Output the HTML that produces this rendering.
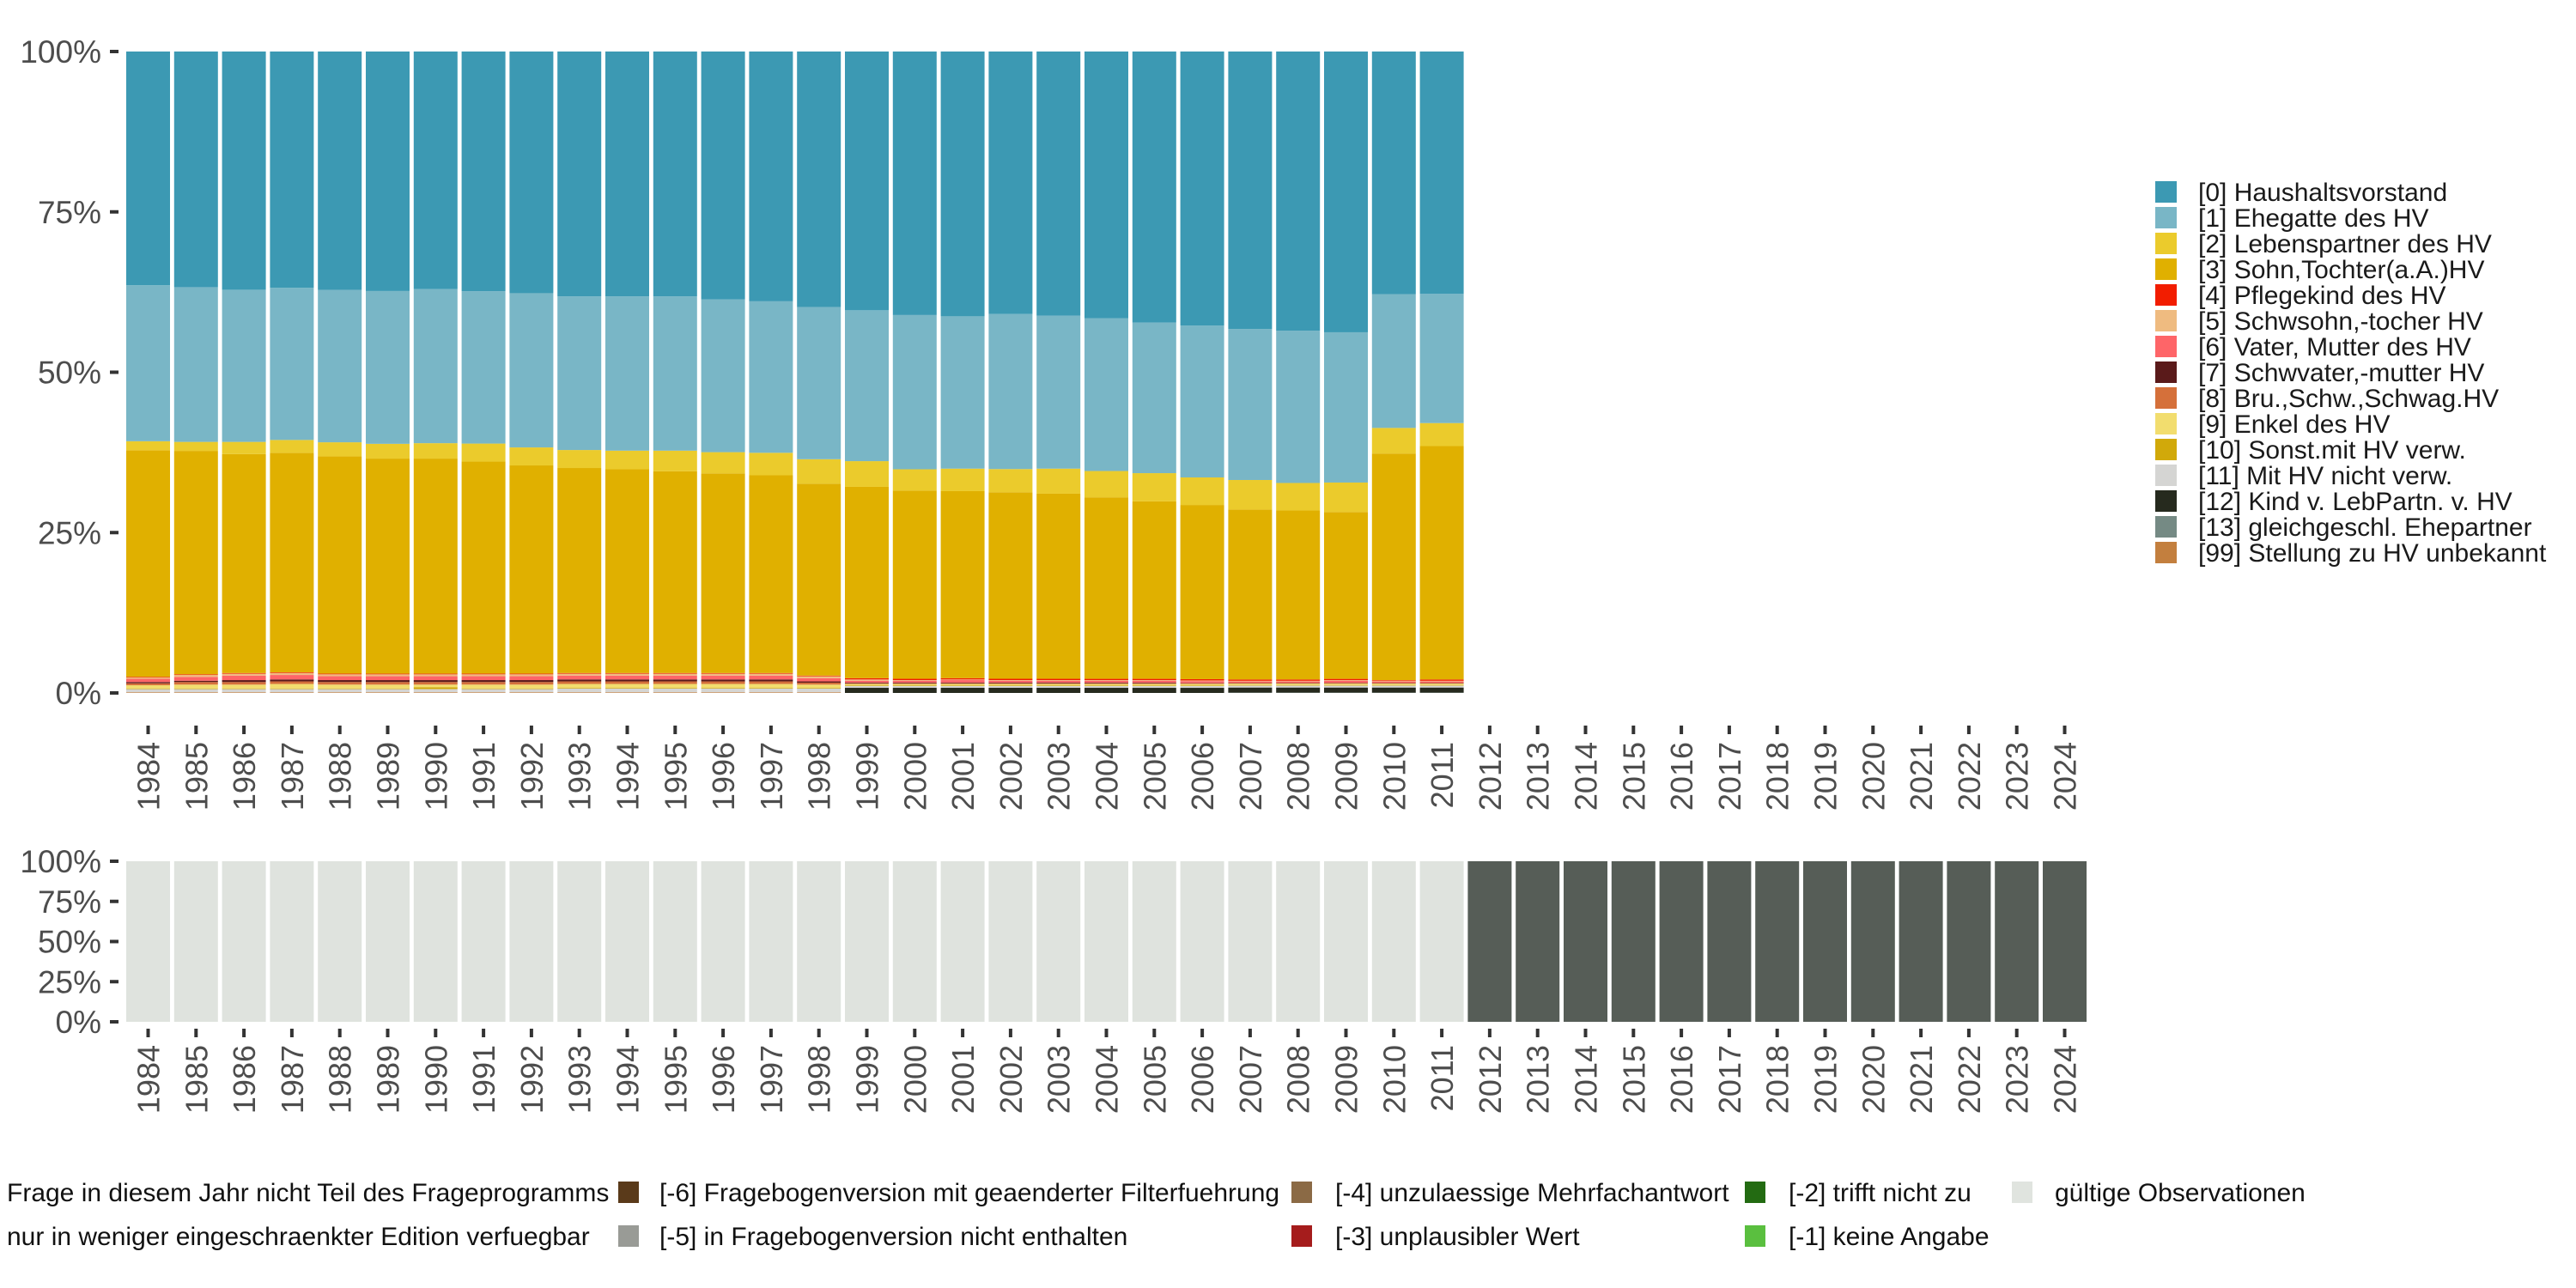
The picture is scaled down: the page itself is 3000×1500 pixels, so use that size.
<!DOCTYPE html>
<html><head><meta charset="utf-8"><style>
html,body{margin:0;padding:0;background:#fff;}
svg{display:block;font-family:"Liberation Sans",sans-serif;}
</style></head><body>
<svg id="chart" width="3000" height="1500" viewBox="0 0 3000 1500" xmlns="http://www.w3.org/2000/svg">
<g id="upper"></g>
<g id="lower"></g>
<g id="legendR"></g>
<g id="legendB"></g>
</svg>
<script>
const years = [1984,1985,1986,1987,1988,1989,1990,1991,1992,1993,1994,1995,1996,1997,1998,1999,2000,2001,2002,2003,2004,2005,2006,2007,2008,2009,2010,2011,2012,2013,2014,2015,2016,2017,2018,2019,2020,2021,2022,2023,2024];
const s0 = [36.4,36.7,37.1,36.8,37.1,37.3,37.0,37.3,37.6,38.1,38.1,38.1,38.6,38.9,39.8,40.3,41.0,41.2,40.8,41.1,41.6,42.3,42.8,43.4,43.6,43.9,37.9,37.9];
const s1 = [24.3,24.1,23.7,23.7,23.7,23.8,24.0,23.7,24.0,23.9,24.0,24.0,23.8,23.6,23.7,23.5,24.0,23.7,24.1,23.8,23.8,23.5,23.7,23.6,23.8,23.5,20.9,20.2];
const s2 = [1.4,1.4,1.9,2.0,2.2,2.3,2.4,2.8,2.8,2.8,2.9,3.2,3.3,3.5,3.8,4.0,3.3,3.5,3.6,3.9,4.1,4.4,4.3,4.6,4.3,4.6,4.0,3.6];
const s3 = [35.3,34.8,34.1,34.2,33.8,33.5,33.5,33.0,32.4,31.9,31.7,31.4,31.1,30.8,29.9,29.8,29.3,29.1,29.0,28.8,28.3,27.7,27.2,26.6,26.4,26.1,35.4,36.5];
const s4 = [0.1,0.1,0.1,0.1,0.1,0.1,0.1,0.1,0.1,0.1,0.1,0.1,0.1,0.1,0.1,0.2,0.2,0.2,0.2,0.2,0.2,0.2,0.2,0.2,0.2,0.2,0.1,0.2];
const s5 = [0.2,0.3,0.3,0.3,0.3,0.3,0.3,0.3,0.3,0.3,0.3,0.3,0.3,0.3,0.3,0.2,0.1,0.1,0.1,0.1,0.1,0.1,0.1,0.1,0.1,0.1,0.1,0.1];
const s6 = [0.5,0.6,0.7,0.7,0.6,0.6,0.6,0.6,0.6,0.6,0.6,0.6,0.6,0.6,0.5,0.3,0.3,0.4,0.3,0.3,0.3,0.3,0.3,0.2,0.2,0.3,0.2,0.2];
const s7 = [0.2,0.2,0.3,0.3,0.3,0.3,0.3,0.3,0.3,0.3,0.3,0.3,0.3,0.3,0.2,0.1,0.1,0.1,0.1,0.1,0.1,0.1,0.05,0.05,0.05,0.05,0.05,0.05];
const s8 = [0.3,0.4,0.4,0.4,0.4,0.4,0.4,0.4,0.4,0.4,0.4,0.4,0.4,0.4,0.3,0.1,0.1,0.1,0.1,0.1,0.1,0.1,0.1,0.1,0.1,0.1,0.1,0.1];
const s9 = [0.5,0.6,0.6,0.7,0.6,0.6,0.4,0.6,0.6,0.6,0.6,0.6,0.6,0.6,0.5,0.2,0.2,0.2,0.2,0.2,0.2,0.2,0.2,0.2,0.2,0.2,0.2,0.2];
const s10 = [0.1,0.1,0.1,0.1,0.1,0.1,0.3,0.1,0.1,0.1,0.1,0.1,0.1,0.1,0.1,0.1,0.1,0.1,0.1,0.1,0.1,0.1,0.1,0.1,0.1,0.1,0.1,0.1];
const s11 = [0.5,0.5,0.5,0.5,0.5,0.5,0.5,0.5,0.5,0.6,0.6,0.6,0.6,0.6,0.6,0.3,0.3,0.3,0.3,0.3,0.3,0.3,0.3,0.3,0.3,0.3,0.3,0.3];
const s12 = [0,0,0,0,0,0,0,0,0,0,0,0,0,0,0,0.8,0.8,0.8,0.8,0.8,0.8,0.8,0.8,0.8,0.8,0.8,0.8,0.8];
const s13 = [0,0,0,0,0,0,0,0,0,0,0,0,0,0,0,0,0,0,0,0,0,0,0,0.05,0.05,0.05,0.05,0.05];
const s99 = [0.1,0.1,0.1,0.1,0.1,0.1,0.1,0.1,0.1,0.1,0.1,0.1,0.1,0.1,0.1,0,0,0,0,0,0,0,0,0,0,0,0,0];
const validShare = [100,100,100,100,100,100,100,100,100,100,100,100,100,100,100,100,100,100,100,100,100,100,100,100,100,100,100,100,0,0,0,0,0,0,0,0,0,0,0,0,0];
const notAskedShare = [0,0,0,0,0,0,0,0,0,0,0,0,0,0,0,0,0,0,0,0,0,0,0,0,0,0,0,0,100,100,100,100,100,100,100,100,100,100,100,100,100];
const yTicks = [0,25,50,75,100];
const catLabels = ["[0] Haushaltsvorstand","[1] Ehegatte des HV","[2] Lebenspartner des HV","[3] Sohn,Tochter(a.A.)HV","[4] Pflegekind des HV","[5] Schwsohn,-tocher HV","[6] Vater, Mutter des HV","[7] Schwvater,-mutter HV","[8] Bru.,Schw.,Schwag.HV","[9] Enkel des HV","[10] Sonst.mit HV verw.","[11] Mit HV nicht verw.","[12] Kind v. LebPartn. v. HV","[13] gleichgeschl. Ehepartner","[99] Stellung zu HV unbekannt"];
const catColors = ["#3c99b3","#79b6c6","#ebcb2c","#e0b000","#f21d00","#efbb80","#fe6568","#5a1a1a","#d5703a","#f2dd6e","#d1a90a","#d5d5d3","#262a1e","#758a84","#c37f3e"];
const series = [s0,s1,s2,s3,s4,s5,s6,s7,s8,s9,s10,s11,s12,s13,s99];

const NS="http://www.w3.org/2000/svg";
function mk(tag, attrs, parent){const e=document.createElementNS(NS,tag);for(const k in attrs)e.setAttribute(k,attrs[k]);parent.appendChild(e);return e;}
const pitch=55.8, x0=172.5, bw=51;
function xC(i){return x0+i*pitch;}
function yU(p){return 807-(p/100)*747;}
function yL(p){return 1190-(p/100)*187;}

const up=document.getElementById('upper');
const low=document.getElementById('lower');

for(let i=0;i<s0.length;i++){
  let tot=0; series.forEach(s=>tot+=s[i]);
  let cum=0;
  for(let k=series.length-1;k>=0;k--){
    const v=series[k][i]/tot*100;
    if(v<=0) continue;
    const r=mk('rect',{x:xC(i)-bw/2,y:yU(cum+v),width:bw,height:yU(cum)-yU(cum+v),fill:catColors[k]},up);
    
    
    cum+=v;
  }
}
function yAxis(g,fy){
  yTicks.forEach(t=>{
    const y=fy(t);
    const tk=mk('rect',{x:128,y:y-2,width:10,height:4,fill:'#333'},g);
    
    
    const tx=mk('text',{x:118,y:y+13,'text-anchor':'end','font-size':37,fill:'#4d4d4d'},g);
    tx.textContent=t+'%';
    
    
  });
}
function xAxis(g,tickY,labY){
  years.forEach((yr,i)=>{
    const x=xC(i);
    const tk=mk('rect',{x:x-2,y:tickY,width:4,height:10,fill:'#333'},g);
    
    
    const tx=mk('text',{x:0,y:0,'text-anchor':'end','font-size':36,fill:'#4d4d4d',transform:`translate(${x+13},${labY}) rotate(-90)`},g);
    tx.textContent=yr;
    
    
  });
}
yAxis(up,yU); xAxis(up,845,864);

years.forEach((yr,i)=>{
  let cum=0;
  [[validShare,'#dfe3de','valid'],[notAskedShare,'#565d57','not-asked']].forEach(([arr,c,n])=>{
    const v=arr[i]; if(v<=0) return;
    const r=mk('rect',{x:xC(i)-bw/2,y:yL(cum+v),width:bw,height:yL(cum)-yL(cum+v),fill:c},low);
    
    
    cum+=v;
  });
});
yAxis(low,yL); xAxis(low,1198,1217);

const lr=document.getElementById('legendR');
catLabels.forEach((l,k)=>{
  const y=211+k*30;
  const r=mk('rect',{x:2510,y:y,width:25,height:25,fill:catColors[k]},lr);
  
  
  const t=mk('text',{x:2560,y:y+23,'font-size':30,fill:'#1a1a1a'},lr);
  t.textContent=l;
  
  
});

const lb=document.getElementById('legendB');
const bItems=[
 [null,8,1389,"Frage in diesem Jahr nicht Teil des Frageprogramms"],
 [null,8,1440,"nur in weniger eingeschraenkter Edition verfuegbar"],
 ["#5a3a1a",768,1389,"[-6] Fragebogenversion mit geaenderter Filterfuehrung"],
 ["#999b96",768,1440,"[-5] in Fragebogenversion nicht enthalten"],
 ["#8b6a45",1555,1389,"[-4] unzulaessige Mehrfachantwort"],
 ["#a51c1c",1555,1440,"[-3] unplausibler Wert"],
 ["#236b12",2083,1389,"[-2] trifft nicht zu"],
 ["#5abf3f",2083,1440,"[-1] keine Angabe"],
 ["#e0e4df",2393,1389,"gültige Observationen"]
];
const swX={768:720,1555:1504,2083:2032,2393:2343};
bItems.forEach(([c,x,y,l])=>{
  if(c){
    const r=document.createElementNS(NS,'rect');
    r.setAttribute('x',swX[x]);r.setAttribute('y',y-13);r.setAttribute('width',24);r.setAttribute('height',25);r.setAttribute('fill',c);
    
    
    lb.appendChild(r);
  }
  const t=document.createElementNS(NS,'text');
  t.setAttribute('x',x);t.setAttribute('y',y+10);t.setAttribute('font-size',30);t.setAttribute('fill','#111');
  t.textContent=l;
  
  
  lb.appendChild(t);
});
</script>
</body></html>
